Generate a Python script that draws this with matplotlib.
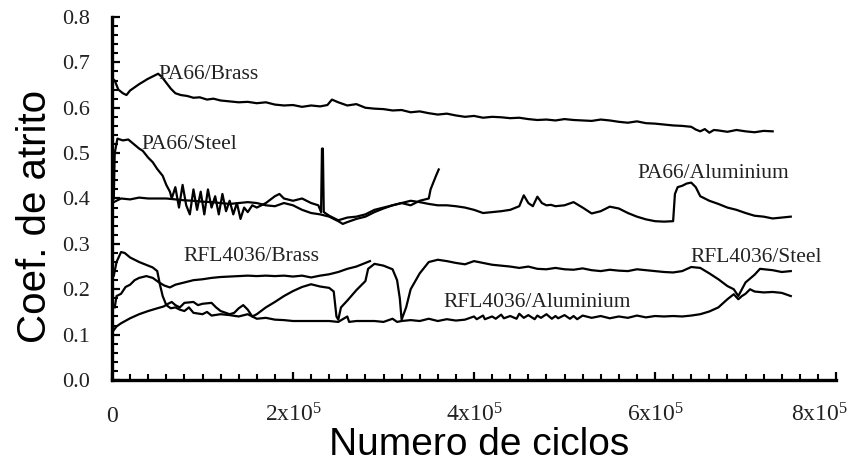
import matplotlib
matplotlib.use("Agg")
import matplotlib.pyplot as plt
from matplotlib.ticker import MultipleLocator, FixedLocator, FixedFormatter
from matplotlib.transforms import ScaledTranslation

# ciclos em unidades de 1e5
pa_brass_x = [0.0, 0.03, 0.07, 0.12, 0.16, 0.20, 0.25, 0.30, 0.35, 0.39,
              0.44, 0.48, 0.51, 0.55, 0.60, 0.65, 0.70, 0.76, 0.83, 0.90,
              0.97, 1.05, 1.12, 1.2, 1.3, 1.4, 1.5, 1.6, 1.7, 1.8,
              1.9, 2.0, 2.1, 2.2, 2.3, 2.38, 2.43, 2.5, 2.6, 2.7,
              2.8, 2.9, 3.0, 3.1, 3.2, 3.3, 3.4, 3.5, 3.6, 3.7,
              3.8, 3.9, 4.0, 4.1, 4.2, 4.3, 4.4, 4.5, 4.6, 4.7,
              4.8, 4.9, 5.0, 5.1, 5.2, 5.3, 5.4, 5.5, 5.6, 5.7,
              5.8, 5.9, 6.0, 6.1, 6.2, 6.3, 6.4, 6.45, 6.5, 6.55,
              6.6, 6.65, 6.7, 6.8, 6.9, 7.0, 7.1, 7.2, 7.3]
pa_brass_y = [0.665, 0.66, 0.64, 0.632, 0.628, 0.638, 0.645, 0.652, 0.658, 0.663,
              0.668, 0.672, 0.675, 0.668, 0.655, 0.642, 0.632, 0.628, 0.626, 0.622,
              0.623, 0.618, 0.62, 0.616, 0.614, 0.612, 0.613, 0.61, 0.612, 0.607,
              0.605, 0.606, 0.602, 0.605, 0.603, 0.606, 0.618, 0.612, 0.605, 0.608,
              0.6, 0.598, 0.597, 0.594, 0.595, 0.59, 0.592, 0.588, 0.585, 0.587,
              0.583, 0.58, 0.582, 0.578, 0.58, 0.579, 0.577, 0.578, 0.575, 0.573,
              0.574, 0.572, 0.575, 0.573, 0.572, 0.571, 0.574, 0.572, 0.569, 0.567,
              0.57, 0.566, 0.565, 0.563, 0.561, 0.56, 0.558, 0.552, 0.548, 0.553,
              0.545, 0.551, 0.55, 0.547, 0.551, 0.548, 0.546, 0.549, 0.548]

pa_steel_x = [0.02, 0.03, 0.06, 0.12, 0.18, 0.24, 0.30, 0.34, 0.40, 0.45,
              0.50, 0.56, 0.60, 0.64, 0.66, 0.70, 0.74, 0.78, 0.82, 0.86,
              0.90, 0.94, 0.98, 1.02, 1.06, 1.10, 1.14, 1.18, 1.22, 1.26,
              1.30, 1.34, 1.38, 1.42, 1.46, 1.50, 1.55, 1.60, 1.70, 1.80,
              1.85, 1.90, 2.00, 2.10, 2.20, 2.28, 2.31, 2.32, 2.33, 2.34,
              2.40, 2.50, 2.60, 2.70, 2.80, 2.90, 3.00, 3.10, 3.20, 3.30,
              3.40, 3.50, 3.52, 3.55, 3.58, 3.61]
pa_steel_y = [0.40, 0.50, 0.532, 0.528, 0.53, 0.52, 0.51, 0.505, 0.49, 0.48,
              0.465, 0.45, 0.43, 0.415, 0.40, 0.425, 0.38, 0.43, 0.385, 0.365,
              0.42, 0.375, 0.415, 0.365, 0.42, 0.38, 0.405, 0.365, 0.41, 0.372,
              0.395, 0.365, 0.39, 0.355, 0.38, 0.37, 0.385, 0.38, 0.39, 0.405,
              0.41, 0.40, 0.395, 0.40, 0.39, 0.385, 0.37, 0.51, 0.51, 0.37,
              0.362, 0.352, 0.358, 0.36, 0.365, 0.375, 0.38, 0.385, 0.39, 0.385,
              0.395, 0.40, 0.42, 0.435, 0.45, 0.464]

pa_al_x = [0.0, 0.1, 0.2, 0.3, 0.4, 0.5, 0.6, 0.7, 0.8, 0.9,
           1.0, 1.1, 1.2, 1.3, 1.4, 1.5, 1.6, 1.7, 1.8, 1.9,
           2.0, 2.1, 2.2, 2.3, 2.4, 2.5, 2.55, 2.6, 2.7, 2.8,
           2.9, 3.0, 3.1, 3.2, 3.3, 3.4, 3.5, 3.6, 3.7, 3.8,
           3.9, 4.0, 4.1, 4.2, 4.3, 4.4, 4.5, 4.55, 4.6, 4.65,
           4.7, 4.75, 4.8, 4.85, 4.9, 5.0, 5.1, 5.2, 5.3, 5.4,
           5.5, 5.6, 5.7, 5.8, 5.9, 6.0, 6.1, 6.2, 6.22, 6.25,
           6.3, 6.35, 6.4, 6.45, 6.5, 6.6, 6.7, 6.8, 6.9, 7.0,
           7.1, 7.2, 7.3, 7.4, 7.5]
pa_al_y = [0.39, 0.40, 0.398, 0.402, 0.40, 0.40, 0.40, 0.398, 0.396, 0.395,
           0.393, 0.392, 0.39, 0.388, 0.39, 0.392, 0.39, 0.385, 0.383, 0.39,
           0.385, 0.375, 0.368, 0.365, 0.36, 0.35, 0.344, 0.348, 0.355, 0.36,
           0.37, 0.378, 0.385, 0.39, 0.395, 0.392, 0.388, 0.385, 0.385, 0.383,
           0.38, 0.375, 0.368, 0.37, 0.372, 0.375, 0.383, 0.407, 0.39, 0.383,
           0.404, 0.39, 0.385, 0.386, 0.383, 0.385, 0.392, 0.38, 0.367, 0.372,
           0.382, 0.378, 0.368, 0.36, 0.354, 0.35, 0.349, 0.35, 0.41, 0.425,
           0.428, 0.433, 0.435, 0.425, 0.405, 0.395, 0.388, 0.38, 0.375, 0.368,
           0.362, 0.36, 0.356, 0.358, 0.36]

rfl_brass_x = [0.03, 0.05, 0.10, 0.15, 0.20, 0.25, 0.30, 0.38, 0.45, 0.52,
               0.58, 0.64, 0.70, 0.8, 0.9, 1.0, 1.1, 1.2, 1.3, 1.4,
               1.5, 1.6, 1.7, 1.8, 1.9, 2.0, 2.1, 2.2, 2.3, 2.4,
               2.5, 2.6, 2.7, 2.8, 2.85]
rfl_brass_y = [0.16, 0.185, 0.19, 0.205, 0.21, 0.22, 0.225, 0.229, 0.225, 0.215,
               0.208, 0.204, 0.21, 0.215, 0.22, 0.222, 0.225, 0.227, 0.228, 0.229,
               0.23, 0.229, 0.23, 0.229, 0.23, 0.228, 0.23, 0.226, 0.23, 0.233,
               0.238, 0.245, 0.25, 0.258, 0.262]

rfl_al_x = [0.02, 0.05, 0.10, 0.14, 0.2, 0.3, 0.4, 0.45, 0.5, 0.53,
            0.56, 0.6, 0.65, 0.7, 0.75, 0.8, 0.85, 0.9, 1.0, 1.05,
            1.1, 1.2, 1.3, 1.4, 1.5, 1.6, 1.7, 1.8, 1.9, 2.0,
            2.2, 2.4, 2.5, 2.6, 2.62, 2.7, 2.9, 3.0, 3.1, 3.15,
            3.2, 3.3, 3.4, 3.5, 3.6, 3.7, 3.8, 3.9, 4.0, 4.03,
            4.1, 4.12, 4.2, 4.24, 4.3, 4.33, 4.4, 4.47, 4.5, 4.55,
            4.6, 4.67, 4.7, 4.74, 4.8, 4.86, 4.9, 4.93, 5.0, 5.06,
            5.1, 5.14, 5.2, 5.3, 5.4, 5.5, 5.6, 5.7, 5.8, 5.9,
            6.0, 6.1, 6.2, 6.3, 6.4, 6.5, 6.6, 6.7, 6.8, 6.87,
            6.92, 6.96, 7.0, 7.05, 7.1, 7.2, 7.3, 7.4, 7.5]
rfl_al_y = [0.23, 0.26, 0.282, 0.28, 0.27, 0.26, 0.252, 0.248, 0.24, 0.21,
            0.185, 0.165, 0.158, 0.16, 0.155, 0.152, 0.16, 0.148, 0.145, 0.15,
            0.142, 0.145, 0.143, 0.14, 0.145, 0.135, 0.137, 0.133, 0.132, 0.13,
            0.13, 0.13, 0.128, 0.14, 0.128, 0.13, 0.13, 0.128, 0.135, 0.128,
            0.13, 0.132, 0.13, 0.135, 0.13, 0.134, 0.131, 0.133, 0.14, 0.134,
            0.142, 0.134, 0.14, 0.135, 0.144, 0.136, 0.141, 0.135, 0.146, 0.137,
            0.143, 0.134, 0.142, 0.137, 0.145, 0.135, 0.141, 0.136, 0.143, 0.135,
            0.141, 0.134, 0.142, 0.137, 0.141, 0.136, 0.14, 0.137, 0.142, 0.138,
            0.141, 0.14, 0.141, 0.14, 0.142, 0.145, 0.151, 0.16, 0.178, 0.189,
            0.178, 0.185, 0.19, 0.2, 0.195, 0.193, 0.194, 0.192, 0.185]

rfl_steel_x = [0.02, 0.05, 0.1, 0.2, 0.3, 0.4, 0.5, 0.57, 0.62, 0.66,
               0.7, 0.75, 0.8, 0.9, 0.95, 1.0, 1.1, 1.15, 1.2, 1.3,
               1.35, 1.4, 1.45, 1.5, 1.55, 1.6, 1.7, 1.8, 1.9, 2.0,
               2.1, 2.2, 2.3, 2.4, 2.45, 2.48, 2.5, 2.53, 2.6, 2.7,
               2.8, 2.83, 2.9, 3.0, 3.1, 3.15, 3.18, 3.2, 3.25, 3.3,
               3.4, 3.5, 3.6, 3.7, 3.8, 3.9, 4.0, 4.1, 4.2, 4.3,
               4.4, 4.5, 4.6, 4.7, 4.8, 4.9, 5.0, 5.1, 5.2, 5.3,
               5.4, 5.5, 5.6, 5.7, 5.8, 5.9, 6.0, 6.1, 6.2, 6.3,
               6.4, 6.5, 6.6, 6.7, 6.8, 6.87, 6.92, 6.96, 7.0, 7.1,
               7.16, 7.3, 7.4, 7.5]
rfl_steel_y = [0.11, 0.118, 0.125, 0.136, 0.145, 0.152, 0.158, 0.162, 0.168, 0.172,
               0.165, 0.16, 0.17, 0.172, 0.165, 0.168, 0.17, 0.16, 0.152, 0.145,
               0.148, 0.158, 0.165, 0.155, 0.14, 0.145, 0.16, 0.172, 0.185, 0.196,
               0.205, 0.211, 0.206, 0.203, 0.195, 0.14, 0.133, 0.16, 0.175, 0.198,
               0.218, 0.245, 0.256, 0.252, 0.244, 0.22, 0.18, 0.133, 0.16, 0.2,
               0.235, 0.26, 0.265, 0.262, 0.258, 0.255, 0.262, 0.258, 0.254, 0.252,
               0.25, 0.247, 0.25, 0.245, 0.244, 0.247, 0.244, 0.243, 0.246, 0.242,
               0.24, 0.243, 0.241, 0.24, 0.244, 0.242, 0.24, 0.238, 0.237, 0.24,
               0.249, 0.247, 0.235, 0.222, 0.207, 0.2, 0.185, 0.2, 0.215, 0.232,
               0.245, 0.242, 0.238, 0.24]

curve_names = ["PA66/Brass", "PA66/Steel", "PA66/Aluminium",
               "RFL4036/Brass", "RFL4036/Aluminium", "RFL4036/Steel"]
label_x = [0.51, 0.33, 5.81, 0.785, 3.66, 6.39]
label_y = [0.673, 0.518, 0.456, 0.273, 0.171, 0.271]

x_ticks = [0, 2, 4, 6, 8]
x_tick_labels = ["0", r"$\mathregular{2x10^{5}}$", r"$\mathregular{4x10^{5}}$",
                 r"$\mathregular{6x10^{5}}$", r"$\mathregular{8x10^{5}}$"]
y_ticks = [0.0, 0.1, 0.2, 0.3, 0.4, 0.5, 0.6, 0.7, 0.8]
y_tick_labels = ["0.0", "0.1", "0.2", "0.3", "0.4", "0.5", "0.6", "0.7", "0.8"]

plt.rcParams['font.family'] = ['Liberation Serif', 'DejaVu Serif']
plt.rcParams['mathtext.fontset'] = 'custom'
plt.rcParams['mathtext.rm'] = 'Liberation Serif'

fig = plt.figure(figsize=(8.53, 4.67), dpi=100)
ax = fig.add_axes([0.1313, 0.1863, 0.8488, 0.7773])

series = [(pa_brass_x, pa_brass_y), (pa_steel_x, pa_steel_y), (pa_al_x, pa_al_y),
          (rfl_brass_x, rfl_brass_y), (rfl_al_x, rfl_al_y), (rfl_steel_x, rfl_steel_y)]
for xs, ys in series:
    ax.plot(xs, ys, color='black', linewidth=1.6)

for name, tx, ty in zip(curve_names, label_x, label_y):
    ax.text(tx, ty, name, ha='left', va='center', fontsize=15.5, color='#222222')

ax.set_xlim(0, 8)
ax.set_ylim(0, 0.8)

for s in ['top', 'right']:
    ax.spines[s].set_visible(False)
for s in ['left', 'bottom']:
    ax.spines[s].set_linewidth(2.4)

ax.yaxis.set_major_locator(FixedLocator(y_ticks))
ax.yaxis.set_minor_locator(MultipleLocator(0.02))
ax.yaxis.set_major_formatter(FixedFormatter(y_tick_labels))

ax.set_xticks(x_ticks)
ax.set_xticklabels(x_tick_labels)
ax.xaxis.set_minor_locator(MultipleLocator(0.2))

ax.tick_params(which='major', direction='in', length=6, width=1.6,
               labelsize=16, labelcolor='#222222', pad=16)
ax.tick_params(which='minor', direction='in', length=4, width=1.5)
ax.tick_params(axis='x', which='major', labelsize=17, pad=30)
for t in ax.xaxis.get_major_ticks():
    t.label1.set_verticalalignment('baseline')
# o ultimo rotulo fica encostado na borda, como no original
last = ax.xaxis.get_major_ticks()[-1].label1
last.set_transform(last.get_transform() + ScaledTranslation(-12 / 72, 0, fig.dpi_scale_trans))

ax.set_xlabel("Numero de ciclos", family=['Liberation Sans'], fontsize=28)
ax.xaxis.set_label_coords(0.507, -0.13)
ax.set_ylabel("Coef. de atrito", family=['Liberation Sans'], fontsize=29)
ax.yaxis.set_label_coords(-0.08, 0.45)

fig.savefig("out.png", dpi=100)
